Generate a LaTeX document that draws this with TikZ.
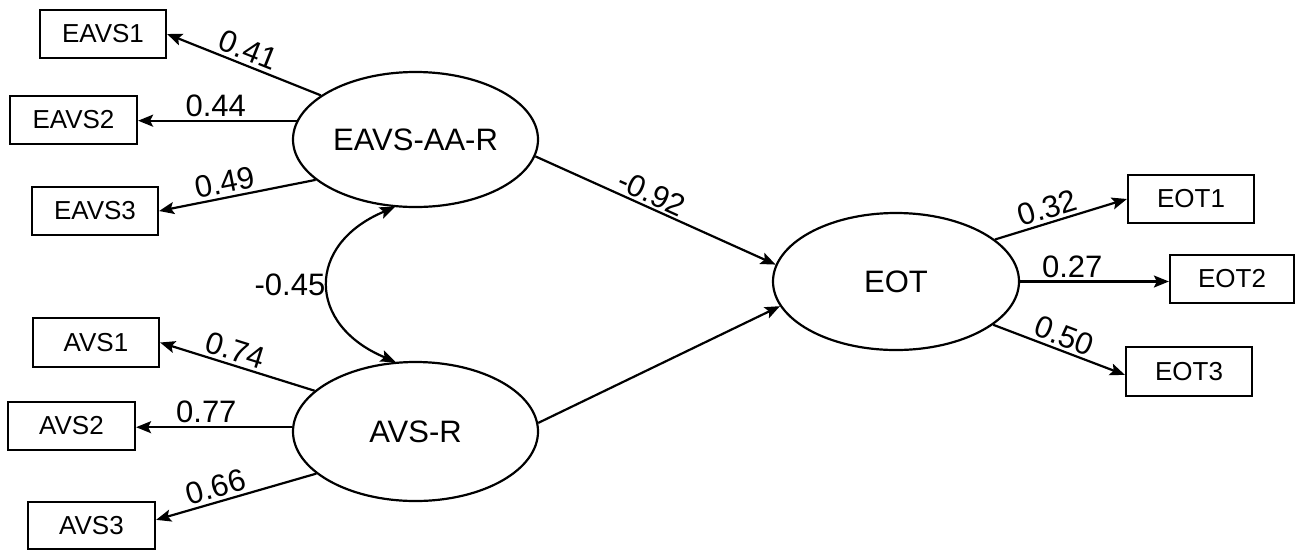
\documentclass[tikz,border=0pt]{standalone}
\usepackage{fontspec}
\setmainfont{Liberation Sans}
\usetikzlibrary{shapes.geometric,arrows.meta}
\tikzset{
  box/.style={draw, line width=2.2pt, minimum width=126pt, minimum height=48pt, inner sep=0pt, font=\fontsize{26}{30}\selectfont},
  lat/.style={draw, ellipse, line width=2.2pt, inner sep=0pt, font=\fontsize{31}{36}\selectfont},
  tip/.style={Stealth[length=15pt,width=12pt,inset=3pt]},
  conn/.style={line width=2.2pt, -{Stealth[length=15pt,width=12pt,inset=3pt]}},
  cov/.style={line width=2.2pt, {Stealth[length=15pt,width=12pt,inset=3pt]}-{Stealth[length=15pt,width=12pt,inset=3pt]}},
  coef/.style={font=\fontsize{31}{36}\selectfont, inner sep=3pt}
}
\begin{document}
\begin{tikzpicture}[x=1pt,y=-1pt]
\useasboundingbox (0,0) rectangle (1295,550);
% latent variables
\node[lat, minimum width=245pt, minimum height=135pt] (eavsaar) at (415.5,139.5) {EAVS-AA-R};
\node[lat, minimum width=245pt, minimum height=139pt] (avsr) at (415.5,431.5) {AVS-R};
\node[lat, minimum width=246pt, minimum height=137pt] (eot) at (896,281.5) {EOT};
% indicators
\node[box] (eavs1) at (103,34) {EAVS1};
\node[box, minimum width=127pt] (eavs2) at (73.5,120) {EAVS2};
\node[box] (eavs3) at (95,211) {EAVS3};
\node[box, minimum height=49pt] (avs1) at (96,342.5) {AVS1};
\node[box, minimum width=127pt] (avs2) at (71.5,426) {AVS2};
\node[box, minimum width=127pt, minimum height=47pt] (avs3) at (91.5,525.5) {AVS3};
\node[box] (eot1) at (1191,199) {EOT1};
\node[box, minimum width=124pt] (eot2) at (1232,279) {EOT2};
\node[box, minimum height=49pt] (eot3) at (1189,371.5) {EOT3};
% loadings
\draw[conn] (eavsaar.155) -- node[coef, pos=0.51, sloped, above] {0.41} (eavs1.east);
\draw[conn] (eavsaar.171.6) -- node[coef, pos=0.51, above] {0.44} (eavsaar.171.6 -| eavs2.east);
\draw[conn] (eavsaar.202.9) -- node[coef, pos=0.56, sloped, above] {0.49} (eavs3.east);
\draw[conn] (avsr.158.9) -- node[coef, pos=0.54, sloped, above] {0.74} (avs1.east);
\draw[conn] (avsr.178.8) -- node[coef, pos=0.55, above] {0.77} (avsr.178.8 -| avs2.east);
\draw[conn] (avsr.203.6) -- node[coef, pos=0.6, sloped, above] {0.66} (avs3.5);
\draw[conn] (eot.23.7) -- node[coef, pos=0.43, sloped, above] {0.32} (eot1.west);
\draw[conn] (eot.east) -- node[coef, pos=0.35, above] {0.27} (eot.east -| eot2.west);
\draw[conn] (eot.-24.2) -- node[coef, pos=0.5, sloped, above] {0.50} (eot3.183);
% structural paths
\draw[conn] (eavsaar.-8.3) -- node[coef, pos=0.46, sloped, above, inner sep=2pt] {-0.92} (eot.172.8);
\draw[conn] (avsr.4.5) -- (eot.192.9);
% covariance
\draw[cov] (eavsaar.253.3) .. controls +(-89,37) and +(-89,-37) .. node[coef, pos=0.5, left, inner sep=2pt] {-0.45} (avsr.106.7);
\end{tikzpicture}
\end{document}
